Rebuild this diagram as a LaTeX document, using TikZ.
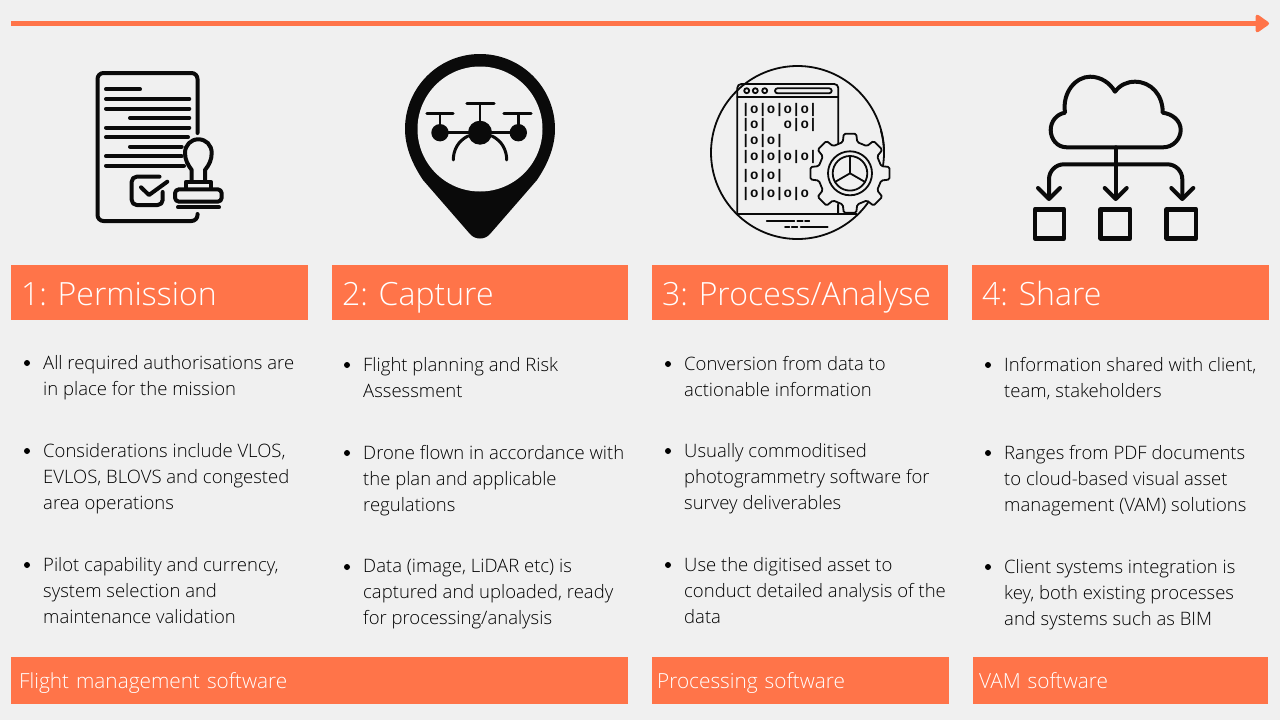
\documentclass[tikz,border=0pt]{standalone}
\usepackage{fontspec}
\setmainfont{Open Sans}
\newfontfamily\lightfont{Open Sans Light}
\newfontfamily\binfont{Liberation Mono Bold}
\usetikzlibrary{arrows.meta}
\definecolor{page_bg}{HTML}{F0F0F0}
\definecolor{band_orange}{HTML}{FF7449}
\definecolor{icon_black}{HTML}{0A0A0A}
\frenchspacing
\begin{document}
\begin{tikzpicture}[x=1pt, y=-1pt]
        \tikzstyle{head_box} = [anchor = west, fill = band_orange, text = white, inner xsep = 10pt, inner ysep = 0pt, text width = 277pt, text height = 25pt, text depth = 0pt, minimum height = 55pt, align = left, font = \lightfont\fontsize{32}{36}\selectfont]
        \tikzstyle{foot_box} = [anchor = west, fill = band_orange, text = white, inner ysep = 0pt, text height = 15.6pt, text depth = 0pt, minimum height = 47pt, align = left, font = \lightfont\fontsize{20.8}{24}\selectfont]
        \tikzstyle{bullet_text} = [anchor = west, yshift = -3pt, inner sep = 0pt, align = left, text = black, font = \lightfont\fontsize{18.5}{26}\selectfont, execute at begin node = \strut, execute at end node = \strut]
        \tikzstyle{bullet_dot} = [shape = circle, fill = black, inner sep = 0pt, minimum size = 6pt]
        \tikzstyle{ink} = [draw = icon_black, line width = 4pt, line cap = round, line join = round]
        \tikzstyle{fine} = [draw = icon_black, line width = 1.8pt, line cap = round, line join = round]
        \tikzstyle{bin_row} = [anchor = west, inner sep = 0pt, text = icon_black, font = \binfont\fontsize{14}{14}\selectfont]

        \fill[page_bg] (0, 0) rectangle (1280, 720);

        % timeline
        \coordinate (time_start) at (11, 23.5);
        \coordinate (time_end) at (1269, 23.5);
        \draw[band_orange, line width = 4.5pt, -{Triangle[length = 15pt, width = 20pt, round]}] (time_start) -- (time_end);

        % permission icon
        \draw[ink, rounded corners = 6pt] (197.5, 133) -- (197.5, 73) -- (97.5, 73) -- (97.5, 221) -- (197.5, 221) -- (197.5, 214);
        \draw[ink] (106, 89.3) -- (140, 89.3);
        \draw[ink] (106, 99) -- (189.3, 99);
        \draw[ink] (106, 108.7) -- (189.3, 108.7);
        \draw[ink] (130, 118) -- (189.3, 118);
        \draw[ink] (106, 127.7) -- (189.3, 127.7);
        \draw[ink] (106, 137.3) -- (188, 137.3);
        \draw[ink] (130, 146.7) -- (181.7, 146.7);
        \draw[ink] (106, 156.3) -- (181.7, 156.3);
        \draw[ink] (106, 165.7) -- (184, 165.7);
        \draw[ink, rounded corners = 5pt] (159.5, 176.7) -- (131.7, 176.7) -- (131.7, 205) -- (162.7, 205) -- (162.7, 192);
        \draw[ink] (141, 187.3) -- (149, 195) -- (167.3, 181.7);
        \draw[ink] (191.7, 181.7) -- (191.7, 170) .. controls (188, 165) and (185, 160) .. (185, 153) .. controls (185, 145) and (191, 139.3) .. (198.3, 139.3) .. controls (206, 139.3) and (211.7, 145) .. (211.7, 153) .. controls (211.7, 160) and (209, 165) .. (205, 170) -- (205, 181.7);
        \draw[ink] (186, 188.3) -- (186, 181.7) -- (210.7, 181.7) -- (210.7, 188.3);
        \draw[ink, rounded corners = 4pt] (175, 189.3) rectangle (221.7, 201.7);
        \draw[ink] (178, 207.3) -- (219, 207.3);

        % capture icon
        \fill[icon_black] (405, 129) .. controls (405, 87.6) and (438.6, 54) .. (480, 54) .. controls (521.4, 54) and (555, 87.6) .. (555, 129) .. controls (555, 150) and (545, 168) .. (537, 180) -- (490, 234) .. controls (485, 240) and (475, 240) .. (470, 234) -- (423, 180) .. controls (415, 168) and (405, 150) .. (405, 129) -- cycle;
        \fill[page_bg] (480, 129) circle [radius = 62.5pt];
        \fill[icon_black] (480, 132.7) circle [radius = 12pt];
        \fill[icon_black] (440, 132.7) circle [radius = 8.7pt];
        \fill[icon_black] (518.3, 132.7) circle [radius = 8.7pt];
        \draw[ink, line width = 3.3pt] (440, 132.7) -- (518.3, 132.7);
        \draw[ink, line width = 3.3pt] (427, 113.3) -- (453, 113.3);
        \draw[ink, line width = 3.3pt] (467, 103.7) -- (494, 103.7);
        \draw[ink, line width = 3.3pt] (504, 113.3) -- (531, 113.3);
        \draw[ink, line width = 2.6pt] (440, 113.3) -- (440, 125);
        \draw[ink, line width = 2.6pt] (480, 103.7) -- (480, 122);
        \draw[ink, line width = 2.6pt] (518.3, 113.3) -- (518.3, 125);
        \draw[ink, line width = 3pt] (453.3, 160) .. controls (453.3, 150) and (458, 141) .. (468, 136);
        \draw[ink, line width = 3pt] (506.7, 160) .. controls (506.7, 150) and (502, 141) .. (492, 136);

        % process icon
        \draw[fine] (797.5, 152.5) circle [radius = 86.5pt];
        \draw[fine, rounded corners = 4pt] (737.3, 214) -- (737.3, 84) -- (838.3, 84) -- (838.3, 214);
        \draw[fine] (737.3, 96.7) -- (838.3, 96.7);
        \draw[fine] (737.3, 214) -- (856.7, 214);
        \draw[fine] (746.7, 90.7) circle [radius = 2.5pt];
        \draw[fine] (755.3, 90.7) circle [radius = 2.5pt];
        \draw[fine] (764.7, 90.7) circle [radius = 2.5pt];
        \draw[fine, rounded corners = 2.5pt] (775, 88.3) rectangle (831.7, 93.3);
        \node[bin_row] at (741.5, 110) (row1) {|o|o|o|o|};
        \node[bin_row] at (741.5, 125.3) (row2) {|o|\ \ o|o|};
        \node[bin_row] at (741.5, 140.7) (row3) {|o|o|};
        \node[bin_row] at (741.5, 157) (row4) {|o|o|o|o|};
        \node[bin_row] at (741.5, 175.7) (row5) {|o|o|};
        \node[bin_row] at (741.5, 194) (row6) {|o|o|o|o};
        \begin{scope}[shift = {(850, 173.3)}]
          \draw[fine, fill = page_bg, rounded corners = 1.5pt] (-13:32pt) -- (-9:40pt) -- (9:40pt) -- (13:32pt) -- (32:32pt) -- (36:40pt) -- (54:40pt) -- (58:32pt) -- (77:32pt) -- (81:40pt) -- (99:40pt) -- (103:32pt) -- (122:32pt) -- (126:40pt) -- (144:40pt) -- (148:32pt) -- (167:32pt) -- (171:40pt) -- (189:40pt) -- (193:32pt) -- (212:32pt) -- (216:40pt) -- (234:40pt) -- (238:32pt) -- (257:32pt) -- (261:40pt) -- (279:40pt) -- (283:32pt) -- (302:32pt) -- (306:40pt) -- (324:40pt) -- (328:32pt) -- cycle;
          \draw[fine] (0, 0) circle [radius = 22pt];
          \draw[fine] (0, 0) circle [radius = 17.3pt];
          \draw[fine] (90:17.3pt) -- (0, 0) -- (210:17.3pt);
          \draw[fine] (0, 0) -- (330:17.3pt);
        \end{scope}
        \draw[fine] (881, 131) .. controls (883.5, 140) and (884.3, 148) .. (884, 157);
        \draw[fine] (838.3, 205) -- (838.3, 214);
        \draw[fine] (766.7, 221.3) -- (794.3, 221.3);
        \draw[fine] (797.3, 221.3) -- (802.7, 221.3);
        \draw[fine] (805, 221.3) -- (809.3, 221.3);
        \draw[fine] (785, 226.7) -- (789.3, 226.7);
        \draw[fine] (791.7, 226.7) -- (797.3, 226.7);
        \draw[fine] (800.7, 226.7) -- (827.7, 226.7);

        % share icon
        \draw[ink] (1066.7, 147.3) .. controls (1057, 147.3) and (1050.7, 139) .. (1050.7, 130) .. controls (1050.7, 121) and (1057, 114) .. (1065, 112.7) .. controls (1062, 92) and (1076, 76.7) .. (1090, 76.7) .. controls (1101, 76.7) and (1110, 83) .. (1115, 91.7) .. controls (1120, 85) and (1127, 81.7) .. (1135, 81.7) .. controls (1151, 81.7) and (1163, 95) .. (1162.7, 112.7) .. controls (1173, 114) and (1180.7, 121) .. (1180.7, 130) .. controls (1180.7, 139) and (1173, 147.3) .. (1163.3, 147.3) -- cycle;
        \draw[ink] (1115.7, 147.3) -- (1115.7, 198);
        \draw[ink, rounded corners = 15pt] (1049, 198) -- (1049, 164.3) -- (1182.3, 164.3) -- (1182.3, 198);
        \draw[ink] (1038, 188) -- (1049, 199) -- (1060, 188);
        \draw[ink] (1104.7, 188) -- (1115.7, 199) -- (1126.7, 188);
        \draw[ink] (1171.3, 188) -- (1182.3, 199) -- (1193.3, 188);
        \draw[ink, line width = 4.5pt] (1035, 209.3) rectangle (1064, 238.3);
        \draw[ink, line width = 4.5pt] (1100.7, 209.3) rectangle (1130, 238.3);
        \draw[ink, line width = 4.5pt] (1166.7, 209.3) rectangle (1196, 238.3);

        % heading bands
        \node[head_box] at (11, 292.5) (head1) {1: Permission};
        \node[head_box, text width = 276pt] at (332, 292.5) (head2) {2: Capture};
        \node[head_box, text width = 276pt] at (652, 292.5) (head3) {3: Process/Analyse};
        \node[head_box] at (972, 292.5) (head4) {4: Share};

        % first column
        \node[bullet_dot] at (27, 363) (dot1a) {};
        \node[bullet_text] at (43, 376) (text1a) {All required authorisations are\\in place for the mission};
        \node[bullet_dot] at (27, 451) (dot1b) {};
        \node[bullet_text] at (43, 477) (text1b) {Considerations include VLOS,\\EVLOS, BLOVS and congested\\area operations};
        \node[bullet_dot] at (27, 565) (dot1c) {};
        \node[bullet_text] at (43, 591) (text1c) {Pilot capability and currency,\\system selection and\\maintenance validation};

        % second column
        \node[bullet_dot] at (347, 365) (dot2a) {};
        \node[bullet_text] at (363, 378) (text2a) {Flight planning and Risk\\Assessment};
        \node[bullet_dot] at (347, 453) (dot2b) {};
        \node[bullet_text] at (363, 479) (text2b) {Drone flown in accordance with\\the plan and applicable\\regulations};
        \node[bullet_dot] at (347, 567) (dot2c) {};
        \node[bullet_text] at (363, 593) (text2c) {Data (image, LiDAR etc) is\\captured and uploaded, ready\\for processing/analysis};

        % third column
        \node[bullet_dot] at (668, 364) (dot3a) {};
        \node[bullet_text] at (684, 377) (text3a) {Conversion from data to\\actionable information};
        \node[bullet_dot] at (668, 451) (dot3b) {};
        \node[bullet_text] at (684, 477) (text3b) {Usually commoditised\\photogrammetry software for\\survey deliverables};
        \node[bullet_dot] at (668, 565) (dot3c) {};
        \node[bullet_text] at (684, 591) (text3c) {Use the digitised asset to\\conduct detailed analysis of the\\data};

        % fourth column
        \node[bullet_dot] at (988, 365) (dot4a) {};
        \node[bullet_text] at (1004, 378) (text4a) {Information shared with client,\\team, stakeholders};
        \node[bullet_dot] at (988, 453) (dot4b) {};
        \node[bullet_text] at (1004, 479) (text4b) {Ranges from PDF documents\\to cloud-based visual asset\\management (VAM) solutions};
        \node[bullet_dot] at (988, 567) (dot4c) {};
        \node[bullet_text] at (1004, 593) (text4c) {Client systems integration is\\key, both existing processes\\and systems such as BIM};

        % software bands
        \node[foot_box, inner xsep = 8pt, text width = 601pt] at (11, 680.5) (foot1) {Flight management software};
        \node[foot_box, inner xsep = 5pt, text width = 287pt] at (652, 680.5) (foot2) {Processing software};
        \node[foot_box, inner xsep = 6pt, text width = 283pt] at (973, 680.5) (foot3) {VAM software};
\end{tikzpicture}
\end{document}
